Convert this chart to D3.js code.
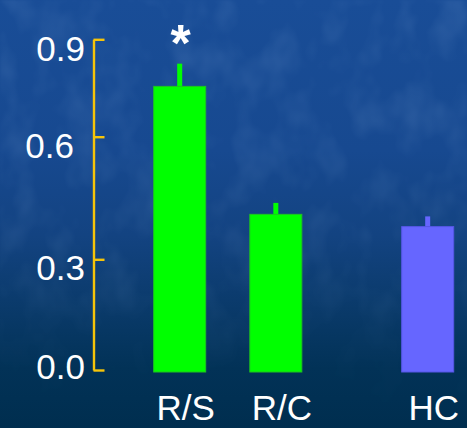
<!DOCTYPE html>
<html>
<head>
<meta charset="utf-8">
<script src="https://cdn.jsdelivr.net/npm/d3@7/dist/d3.min.js"></script>
<style>
  html, body { margin: 0; padding: 0; background: #002f50; }
  svg { display: block; }
</style>
</head>
<body>
<script>
// ---- data ----
const categories = ["R/S", "R/C", "HC"];
const groups = ["patient", "patient", "control"];
const means = [0.755, 0.41, 0.38];
const sems = [0.07, 0.028, 0.025];
const significant = [true, false, false];
const tickValues = [0, 0.3, 0.6, 0.9];
const tickLabels = ["0.0", "0.3", "0.6", "0.9"];

// ---- layout ----
const W = 467, H = 428;
const axisX = 93.5;
const barW = 52, stemW = 5;
const groupGap = 0.58;
const colors = { patient: "#00ff00", control: "#6666ff" };
const edges = { patient: "#1fc41f", control: "#5656e6" };
const axisColor = "#f6c40a";

const svg = d3.select("body").append("svg")
  .attr("width", W).attr("height", H);

// background: deep blue fading darker towards the bottom, with a mottled texture
const defs = svg.append("defs");
const grad = defs.append("linearGradient")
  .attr("id", "bg").attr("x1", 0).attr("y1", 0).attr("x2", 0).attr("y2", 1);
[[0, "#194d97"], [0.35, "#174990"], [0.55, "#134381"], [0.72, "#0a3a6a"],
 [0.86, "#023257"], [1, "#002e4f"]]
  .forEach(([o, c]) => grad.append("stop").attr("offset", o).attr("stop-color", c));

const tex = defs.append("filter").attr("id", "tex")
  .attr("x", 0).attr("y", 0).attr("width", 1).attr("height", 1);
tex.append("feTurbulence").attr("type", "fractalNoise")
  .attr("baseFrequency", "0.03 0.022").attr("numOctaves", 3).attr("seed", 7);
tex.append("feColorMatrix").attr("type", "matrix")
  .attr("values", "0 0 0 0 0.35  0 0 0 0 0.55  0 0 0 0 0.85  0 0 0 0.9 -0.38");
tex.append("feGaussianBlur").attr("stdDeviation", 1.2);

const fade = defs.append("linearGradient")
  .attr("id", "fade").attr("x1", 0).attr("y1", 0).attr("x2", 0).attr("y2", 1);
[[0, 1], [0.6, 0.8], [0.85, 0.15], [1, 0]]
  .forEach(([o, a]) => fade.append("stop").attr("offset", o)
    .attr("stop-color", "#fff").attr("stop-opacity", a));
defs.append("mask").attr("id", "fadeMask")
  .append("rect").attr("width", W).attr("height", H).attr("fill", "url(#fade)");

svg.append("rect").attr("width", W).attr("height", H).attr("fill", "url(#bg)");
svg.append("rect").attr("width", W).attr("height", H)
  .attr("filter", "url(#tex)").attr("mask", "url(#fadeMask)").attr("opacity", 0.3);

// ---- scales ----
// value axis: tick marks sit at uneven heights, so the scale is piecewise linear
const y = d3.scaleLinear()
  .domain(tickValues)
  .range([370, 259.3, 136.7, 39.3]);

// each bar gets a slot; the control group is set apart by an extra gap
const slots = categories.map((c, i) => i + (groups[i] === "control" ? groupGap : 0));
const x = d3.scaleLinear()
  .domain([0, d3.max(slots)])
  .range([179.7, 427.7]);

// ---- axis ----
const axis = d3.axisLeft(y)
  .tickValues(tickValues)
  .tickSize(-11)
  .tickSizeOuter(0)
  .tickFormat("");
const gAxis = svg.append("g")
  .attr("transform", `translate(${axisX},0)`)
  .call(axis);
gAxis.select(".domain").attr("stroke", axisColor).attr("stroke-width", 2.4);
gAxis.selectAll(".tick line").attr("stroke", axisColor).attr("stroke-width", 2.4);

// tick labels, nudged where the slide set them off their tick
const labelNudge = { 0: [0, -4], 0.3: [0, 8], 0.6: [-11, 9], 0.9: [0, 9] };
svg.append("g").selectAll("text")
  .data(tickValues)
  .join("text")
  .attr("x", d => 85 + labelNudge[d][0])
  .attr("y", d => y(d) + labelNudge[d][1])
  .attr("dy", "0.36em")
  .attr("text-anchor", "end")
  .attr("fill", "#ffffff")
  .attr("font-family", "'Liberation Sans', Arial, sans-serif")
  .attr("font-size", 35)
  .text((d, i) => tickLabels[i]);

// ---- bars ----
const rows = categories.map((c, i) => ({
  cat: c, group: groups[i], mean: means[i], sem: sems[i], sig: significant[i], cx: x(slots[i])
}));

const gBars = svg.append("g");
// error stems (upper half only), drawn in the bar colour
gBars.selectAll("rect.stem")
  .data(rows)
  .join("rect")
  .attr("class", "stem")
  .attr("x", d => d.cx - stemW / 2)
  .attr("y", d => y(d.mean + d.sem))
  .attr("width", stemW)
  .attr("height", d => y(d.mean) - y(d.mean + d.sem) + 1)
  .attr("fill", d => colors[d.group]);

gBars.selectAll("rect.bar")
  .data(rows)
  .join("rect")
  .attr("class", "bar")
  .attr("x", d => d.cx - barW / 2)
  .attr("y", d => y(d.mean))
  .attr("width", barW)
  .attr("height", d => y(0) + 2 - y(d.mean))
  .attr("fill", d => colors[d.group])
  .attr("stroke", d => edges[d.group])
  .attr("stroke-width", 1);

// significance marker
svg.append("g").selectAll("text")
  .data(rows.filter(d => d.sig))
  .join("text")
  .attr("x", d => d.cx + 1)
  .attr("y", y(0.9) + 22)
  .attr("text-anchor", "middle")
  .attr("fill", "#ffffff")
  .attr("font-family", "'Liberation Sans', Arial, sans-serif")
  .attr("font-weight", "bold")
  .attr("font-size", 52)
  .text("*");

// category labels
svg.append("g").selectAll("text")
  .data(rows)
  .join("text")
  .attr("x", d => d.cx + 6)
  .attr("y", 420)
  .attr("text-anchor", "middle")
  .attr("fill", "#ffffff")
  .attr("font-family", "'Liberation Sans', Arial, sans-serif")
  .attr("font-size", 35)
  .text(d => d.cat);
</script>
</body>
</html>
